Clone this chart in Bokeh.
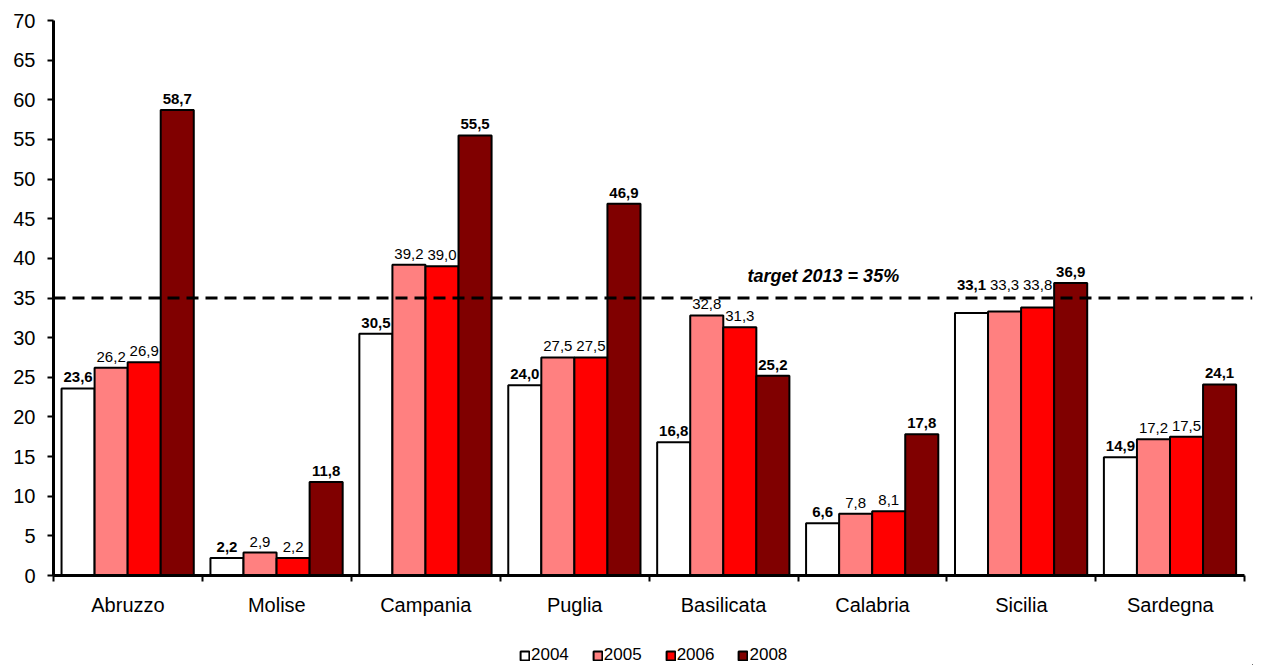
import numpy as np
from bokeh.plotting import figure
from bokeh.layouts import column
from bokeh.models import (ColumnDataSource, FixedTicker, Span, Label, Legend, LegendItem, Range1d)
from bokeh.core.properties import value
from bokeh.embed import file_html
from bokeh.resources import INLINE

regions = ["Abruzzo", "Molise", "Campania", "Puglia", "Basilicata", "Calabria", "Sicilia", "Sardegna"]
years = ["2004", "2005", "2006", "2008"]
v2004 = [23.6, 2.2, 30.5, 24.0, 16.8, 6.6, 33.1, 14.9]
v2005 = [26.2, 2.9, 39.2, 27.5, 32.8, 7.8, 33.3, 17.2]
v2006 = [26.9, 2.2, 39.0, 27.5, 31.3, 8.1, 33.8, 17.5]
v2008 = [58.7, 11.8, 55.5, 46.9, 25.2, 17.8, 36.9, 24.1]
target = 35
target_text = "target 2013 = 35%"
y_ticks = list(range(0, 71, 5))

series = [v2004, v2005, v2006, v2008]
colors = ["#FFFFFF", "#FF8080", "#FF0000", "#800000"]
bold = [True, False, False, True]
offsets = [0.165, 0.387, 0.609, 0.831]
bar_w = 0.222
FONT = "Liberation Sans"

n = len(regions)
p = figure(frame_width=1199, frame_height=555, output_backend="svg", toolbar_location=None,
           x_range=Range1d(0, 8.052), y_range=Range1d(0, 70),
           min_border_left=53, min_border_right=8, min_border_top=20, min_border_bottom=60)
p.outline_line_color = None
p.xgrid.grid_line_color = None
p.ygrid.grid_line_color = None
p.background_fill_color = "white"
p.border_fill_color = "white"

# target line
p.add_layout(Span(location=target, dimension="width", line_color="black",
                  line_width=3, line_dash="12 7"))

# legend-only figure under the chart
lg = figure(width=1260, height=30, output_backend="svg", toolbar_location=None,
            x_range=Range1d(0, 1), y_range=Range1d(0, 1),
            x_axis_type=None, y_axis_type=None,
            min_border_left=0, min_border_right=0, min_border_top=0, min_border_bottom=0)
lg.outline_line_color = None
lg.xgrid.grid_line_color = None
lg.ygrid.grid_line_color = None

items = []
for vals, col, b, off, yr in zip(series, colors, bold, offsets, years):
    xs = np.arange(n) + off
    # labels of bars ending just under the target line are lifted above it
    lab_y = [target + 0.3 if 0 < target - v < 2 else v for v in vals]
    src = ColumnDataSource(dict(x=xs, top=vals, ly=lab_y,
                                lab=[f"{v:.1f}".replace(".", ",") for v in vals]))
    p.vbar(x="x", top="top", bottom=0, width=bar_w, source=src,
           fill_color=col, line_color="black", line_width=2)
    p.text(x="x", y="ly", text="lab", source=src, text_align="center",
           text_baseline="alphabetic", y_offset=-11,
           text_font=value(FONT), text_font_size="15px",
           text_font_style="bold" if b else "normal", text_color="black")
    # proxy bar (outside the visible range) that only feeds the legend swatch
    r = lg.vbar(x=[5], top=[-1], bottom=-2, width=bar_w,
                fill_color=col, line_color="black", line_width=2)
    items.append(LegendItem(label=yr, renderers=[r]))

p.add_layout(Label(x=5.17, y=37.8, text=target_text, text_align="center",
                   text_baseline="alphabetic", text_font=FONT, text_font_size="18px",
                   text_font_style="bold italic", text_color="black"))

# y axis
ya = p.yaxis[0]
ya.ticker = FixedTicker(ticks=y_ticks)
ya.major_label_text_font = FONT
ya.major_label_text_font_size = "20px"
ya.major_label_text_color = "black"
ya.axis_line_width = 3
ya.axis_line_color = "black"
ya.major_tick_in = 0
ya.major_tick_out = 6
ya.major_tick_line_width = 2
ya.minor_tick_line_color = None
ya.major_label_standoff = 12

# x axis
xa = p.xaxis[0]
xa.ticker = FixedTicker(ticks=[i + 0.5 for i in range(n)], minor_ticks=list(range(n + 1)))
xa.major_label_overrides = {i + 0.5: regions[i] for i in range(n)}
xa.bounds = (0, n)
xa.major_label_text_font = FONT
xa.major_label_text_font_size = "20px"
xa.major_label_text_color = "black"
xa.axis_line_width = 3
xa.axis_line_color = "black"
xa.major_tick_line_color = None
xa.major_tick_in = 0
xa.major_tick_out = 6
xa.minor_tick_in = 0
xa.minor_tick_out = 6
xa.minor_tick_line_width = 2
xa.minor_tick_line_color = "black"
xa.major_label_standoff = 12

legend = Legend(items=items, orientation="horizontal", location=(466, 0),
                label_text_font=FONT, label_text_font_size="17px",
                label_text_color="black",
                glyph_width=11, glyph_height=11, label_standoff=1, spacing=23,
                padding=0, margin=0, border_line_color=None,
                background_fill_alpha=0, label_height=18)
lg.add_layout(legend, "center")

layout = column(p, lg, spacing=0)
open("out.html", "w").write(file_html(layout, INLINE))
